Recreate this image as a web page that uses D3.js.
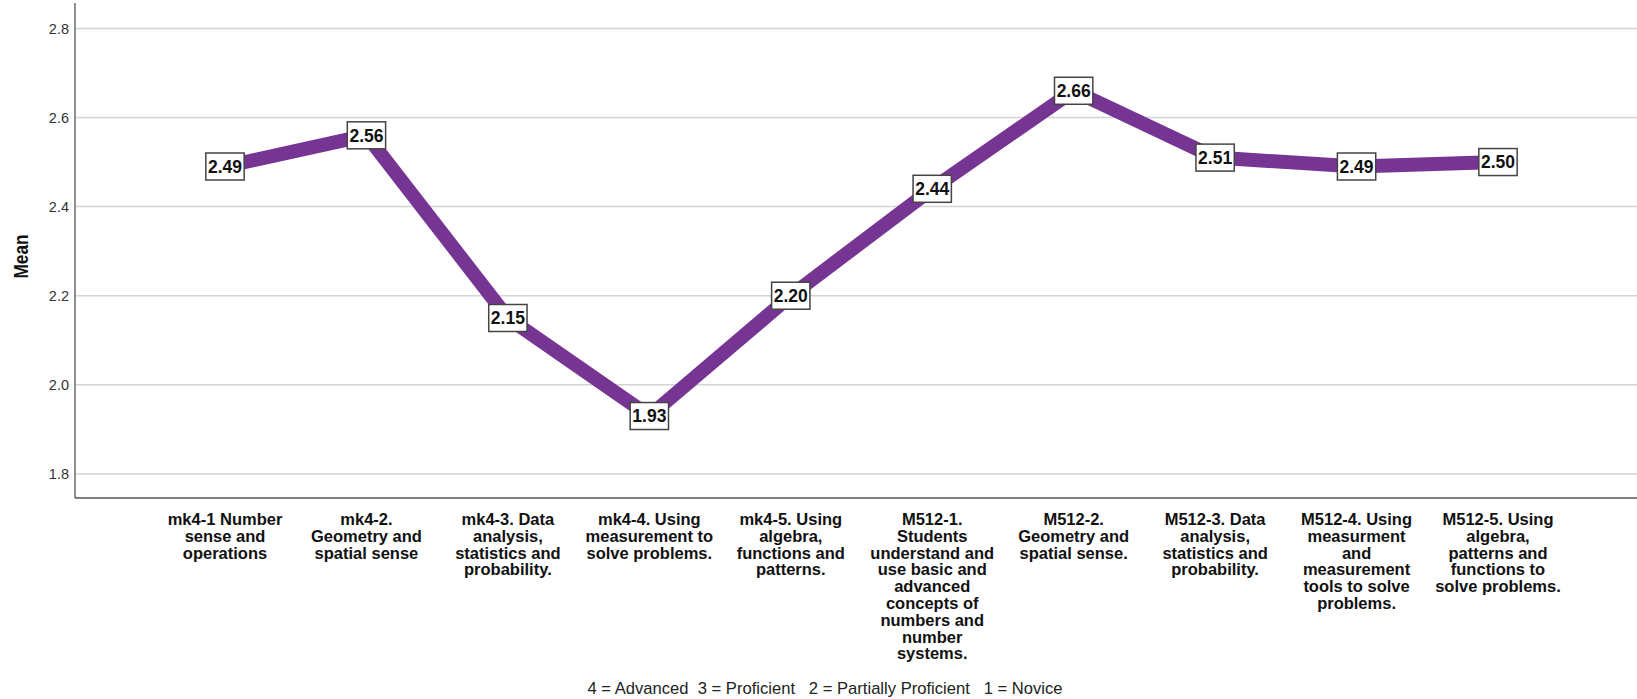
<!DOCTYPE html>
<html><head><meta charset="utf-8">
<script src="https://cdn.jsdelivr.net/npm/d3@7"></script>
<style>
html,body{margin:0;padding:0;background:#fff;}
svg{display:block;font-family:"Liberation Sans",Arial,sans-serif;}
</style></head>
<body>
<svg id="chart" width="1637" height="699"></svg>
<script>
const categories = [
  ["mk4-1 Number","sense and","operations"],
  ["mk4-2.","Geometry and","spatial sense"],
  ["mk4-3. Data","analysis,","statistics and","probability."],
  ["mk4-4. Using","measurement to","solve problems."],
  ["mk4-5. Using","algebra,","functions and","patterns."],
  ["M512-1.","Students","understand and","use basic and","advanced","concepts of","numbers and","number","systems."],
  ["M512-2.","Geometry and","spatial sense."],
  ["M512-3. Data","analysis,","statistics and","probability."],
  ["M512-4. Using","measurment","and","measurement","tools to solve","problems."],
  ["M512-5. Using","algebra,","patterns and","functions to","solve problems."]
];
const means = [2.49, 2.56, 2.15, 1.93, 2.20, 2.44, 2.66, 2.51, 2.49, 2.50];
const yTicks = [1.8, 2.0, 2.2, 2.4, 2.6, 2.8];
const yTitle = "Mean";
const footnote = "4 = Advanced  3 = Proficient   2 = Partially Proficient   1 = Novice";

const svg = d3.select("#chart");
const plotLeft = 75, plotRight = 1637, plotTop = 3, plotBottom = 498;

const y = d3.scaleLinear().domain([1.746, 2.857]).range([plotBottom, plotTop]);
const x = d3.scalePoint().domain(d3.range(categories.length)).range([225, 1498]);

// gridlines
svg.append("g").selectAll("line").data(yTicks).join("line")
  .attr("x1", plotLeft).attr("x2", plotRight)
  .attr("y1", d => y(d)).attr("y2", d => y(d))
  .attr("stroke", "#d4d4d4").attr("stroke-width", 1.5);

// y axis
const yAxis = d3.axisLeft(y).tickValues(yTicks).tickFormat(d3.format(".1f")).tickSize(0).tickPadding(6);
const gy = svg.append("g").attr("transform", `translate(${plotLeft},0)`).call(yAxis);
gy.select(".domain").remove();
gy.selectAll("text").attr("font-size", 14.5).attr("fill", "#333").attr("font-family", "Liberation Sans, Arial, sans-serif");

// axis lines
svg.append("line").attr("x1", plotLeft).attr("x2", plotLeft).attr("y1", plotTop).attr("y2", plotBottom)
  .attr("stroke", "#555").attr("stroke-width", 1.3);
svg.append("line").attr("x1", plotLeft).attr("x2", plotRight).attr("y1", plotBottom).attr("y2", plotBottom)
  .attr("stroke", "#555").attr("stroke-width", 1.3);

// y title
svg.append("text").attr("transform", `translate(27.5,256.5) rotate(-90) scale(0.82,1)`)
  .attr("text-anchor", "middle").attr("font-weight", "bold").attr("font-size", 21).attr("fill", "#111")
  .text(yTitle);

// x category labels
const gx = svg.append("g");
categories.forEach((lines, i) => {
  const t = gx.append("text").attr("text-anchor", "middle").attr("font-weight", "bold")
    .attr("font-size", 16.5).attr("fill", "#111");
  lines.forEach((ln, j) => {
    t.append("tspan").attr("x", x(i)).attr("y", 525 + j * 16.8).text(ln);
  });
});

// line
const line = d3.line().x((d, i) => x(i)).y(d => y(d));
svg.append("path").datum(means).attr("d", line)
  .attr("fill", "none").attr("stroke", "#773593").attr("stroke-width", 14)
  .attr("stroke-linejoin", "round").attr("stroke-linecap", "butt");

// value labels
const gl = svg.append("g");
means.forEach((v, i) => {
  const g = gl.append("g").attr("transform", `translate(${x(i)},${y(v)})`);
  const rect = g.append("rect");
  const t = g.append("text").attr("text-anchor", "middle").attr("dy", "0.36em")
    .attr("font-weight", "bold").attr("font-size", 17.5).attr("fill", "#111").text(d3.format(".2f")(v));
  const bb = t.node().getBBox();
  const w = bb.width + 4, h = 27;
  rect.attr("x", -w/2).attr("y", -h/2).attr("width", w).attr("height", h)
    .attr("fill", "#fff").attr("stroke", "#444").attr("stroke-width", 1.5);
});

// footnote
svg.append("text").attr("x", 825).attr("y", 694).attr("text-anchor", "middle")
  .attr("font-size", 16.6).attr("fill", "#222").style("white-space", "pre").attr("xml:space", "preserve")
  .text(footnote);
</script>
</body></html>
